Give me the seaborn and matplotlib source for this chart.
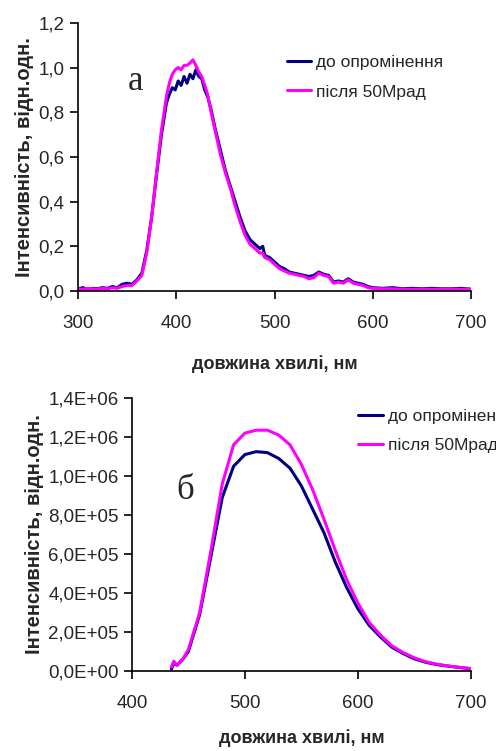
import numpy as np
import pandas as pd
import matplotlib
matplotlib.use("Agg")
import matplotlib.pyplot as plt
import seaborn as sns
from matplotlib.ticker import FuncFormatter, MultipleLocator

# panel a: luminescence spectra, normalised
wl_a = [300, 305, 310, 315, 320, 325, 330, 335, 340, 345, 350, 355, 360, 365, 370, 375, 380, 385,
        390, 393, 396, 399, 402, 405, 408, 411, 414, 417, 420, 423, 426, 429, 432, 435, 440,
        445, 450, 455, 460, 465, 470, 475, 480, 485, 488, 490, 495, 500, 505, 510, 515, 520,
        525, 530, 535, 540, 545, 550, 555, 560, 565, 570, 575, 580, 585, 590, 595, 600,
        610, 620, 630, 640, 650, 660, 670, 680, 690, 700]
before_a = [0.01, 0.015, 0.008, 0.012, 0.01, 0.015, 0.012, 0.02, 0.015, 0.03, 0.035, 0.03, 0.05,
            0.08, 0.18, 0.33, 0.52, 0.70, 0.84, 0.88, 0.91, 0.90, 0.94, 0.92, 0.96, 0.93, 0.97,
            0.95, 0.99, 0.96, 0.95, 0.90, 0.87, 0.82, 0.72, 0.63, 0.54, 0.47, 0.40, 0.33, 0.27,
            0.23, 0.21, 0.19, 0.20, 0.16, 0.15, 0.13, 0.11, 0.10, 0.085, 0.08, 0.075, 0.07,
            0.065, 0.07, 0.085, 0.075, 0.07, 0.04, 0.045, 0.04, 0.055, 0.04, 0.035, 0.03, 0.02,
            0.015, 0.012, 0.015, 0.01, 0.012, 0.01, 0.012, 0.01, 0.01, 0.012, 0.008]
after_a = [0.01, 0.008, 0.012, 0.01, 0.008, 0.012, 0.01, 0.015, 0.012, 0.02, 0.025, 0.025, 0.045,
           0.07, 0.17, 0.33, 0.53, 0.72, 0.87, 0.93, 0.97, 0.99, 1.0, 0.99, 1.01, 1.01, 1.02,
           1.035, 1.01, 0.98, 0.96, 0.92, 0.88, 0.81, 0.71, 0.61, 0.53, 0.46, 0.38, 0.31, 0.25,
           0.21, 0.19, 0.17, 0.17, 0.15, 0.14, 0.12, 0.10, 0.09, 0.08, 0.075, 0.07, 0.065,
           0.055, 0.06, 0.08, 0.07, 0.065, 0.035, 0.04, 0.035, 0.05, 0.035, 0.03, 0.025, 0.015,
           0.012, 0.01, 0.01, 0.008, 0.008, 0.008, 0.008, 0.008, 0.008, 0.008, 0.008]

# panel b: absolute intensity
wl_b = [435, 437, 440, 445, 450, 460, 470, 480, 490, 500, 510, 520, 530, 540, 550,
        560, 570, 580, 590, 600, 610, 620, 630, 640, 650, 660, 670, 680, 690, 700]
before_b = [0.01e6, 0.04e6, 0.03e6, 0.06e6, 0.10e6, 0.29e6, 0.59e6, 0.89e6, 1.05e6, 1.11e6,
            1.125e6, 1.12e6, 1.09e6, 1.04e6, 0.95e6, 0.83e6, 0.71e6, 0.56e6, 0.43e6, 0.32e6,
            0.235e6, 0.175e6, 0.123e6, 0.09e6, 0.063e6, 0.045e6, 0.033e6, 0.025e6, 0.018e6, 0.012e6]
after_b = [0.02e6, 0.05e6, 0.03e6, 0.06e6, 0.11e6, 0.30e6, 0.62e6, 0.96e6, 1.16e6, 1.22e6,
           1.235e6, 1.235e6, 1.21e6, 1.16e6, 1.06e6, 0.93e6, 0.78e6, 0.62e6, 0.47e6, 0.35e6,
           0.25e6, 0.185e6, 0.13e6, 0.095e6, 0.068e6, 0.048e6, 0.035e6, 0.026e6, 0.019e6, 0.013e6]

labels = ["до опромінення", "після 50Мрад"]
colors = ["#000080", "#FF00FF"]

sns.set_style("ticks")
plt.rcParams['font.family'] = ['Liberation Sans', 'DejaVu Sans']

fig = plt.figure(figsize=(4.96, 7.51), dpi=100)
ax1 = fig.add_axes([0.157, 0.6125, 0.793, 0.357])
ax2 = fig.add_axes([0.266, 0.1065, 0.683, 0.3635])

df_a = pd.concat([pd.DataFrame({"wl": wl_a, "I": before_a, "s": labels[0]}),
                  pd.DataFrame({"wl": wl_a, "I": after_a, "s": labels[1]})])
df_b = pd.concat([pd.DataFrame({"wl": wl_b, "I": before_b, "s": labels[0]}),
                  pd.DataFrame({"wl": wl_b, "I": after_b, "s": labels[1]})])

for ax, df in [(ax1, df_a), (ax2, df_b)]:
    sns.lineplot(data=df, x="wl", y="I", hue="s", palette=colors, ax=ax,
                 linewidth=2.2, legend=True)
    sns.despine(ax=ax)
    ax.set_ylabel("Інтенсивність, відн.одн.", fontsize=14.5, fontweight="bold", labelpad=3)
    ax.set_xlabel("довжина хвилі, нм", fontsize=13, fontweight="bold",
                  labelpad=17 if ax is ax1 else 13)
    ax.tick_params(labelsize=13.5, direction="out", length=6, width=1.2, color="black")
    ax.tick_params(axis="x", pad=11)
    for sp in ax.spines.values():
        sp.set_linewidth(1.2)
        sp.set_color("black")
    ax.set_xlim(300 if ax is ax1 else 400, 700)
    ax.xaxis.set_major_locator(MultipleLocator(100))

ax1.set_ylim(0, 1.2)
ax1.yaxis.set_major_locator(MultipleLocator(0.2))
ax1.yaxis.set_major_formatter(FuncFormatter(lambda v, p: f"{v:.1f}".replace(".", ",")))

ax2.set_ylim(0, 1.4e6)
ax2.yaxis.set_major_locator(MultipleLocator(2e5))
ax2.yaxis.set_major_formatter(FuncFormatter(lambda v, p: f"{v:.1E}".replace(".", ",")))

# legend of panel b runs past the right edge, as in the source figure
ax1.legend(loc="upper left", bbox_to_anchor=(0.513, 0.905), frameon=False, fontsize=12.5,
           handlelength=1.4, handletextpad=0.3, labelspacing=0.8, borderaxespad=0)
ax2.legend(loc="upper left", bbox_to_anchor=(0.648, 0.985), frameon=False, fontsize=12.5,
           handlelength=1.4, handletextpad=0.3, labelspacing=0.8, borderaxespad=0)

ax1.text(0.128, 0.75, "а", transform=ax1.transAxes, fontsize=25,
         family="Liberation Serif")
ax2.text(0.13, 0.63, "б", transform=ax2.transAxes, fontsize=25,
         family="Liberation Serif")

fig.savefig("out.png", dpi=100)
